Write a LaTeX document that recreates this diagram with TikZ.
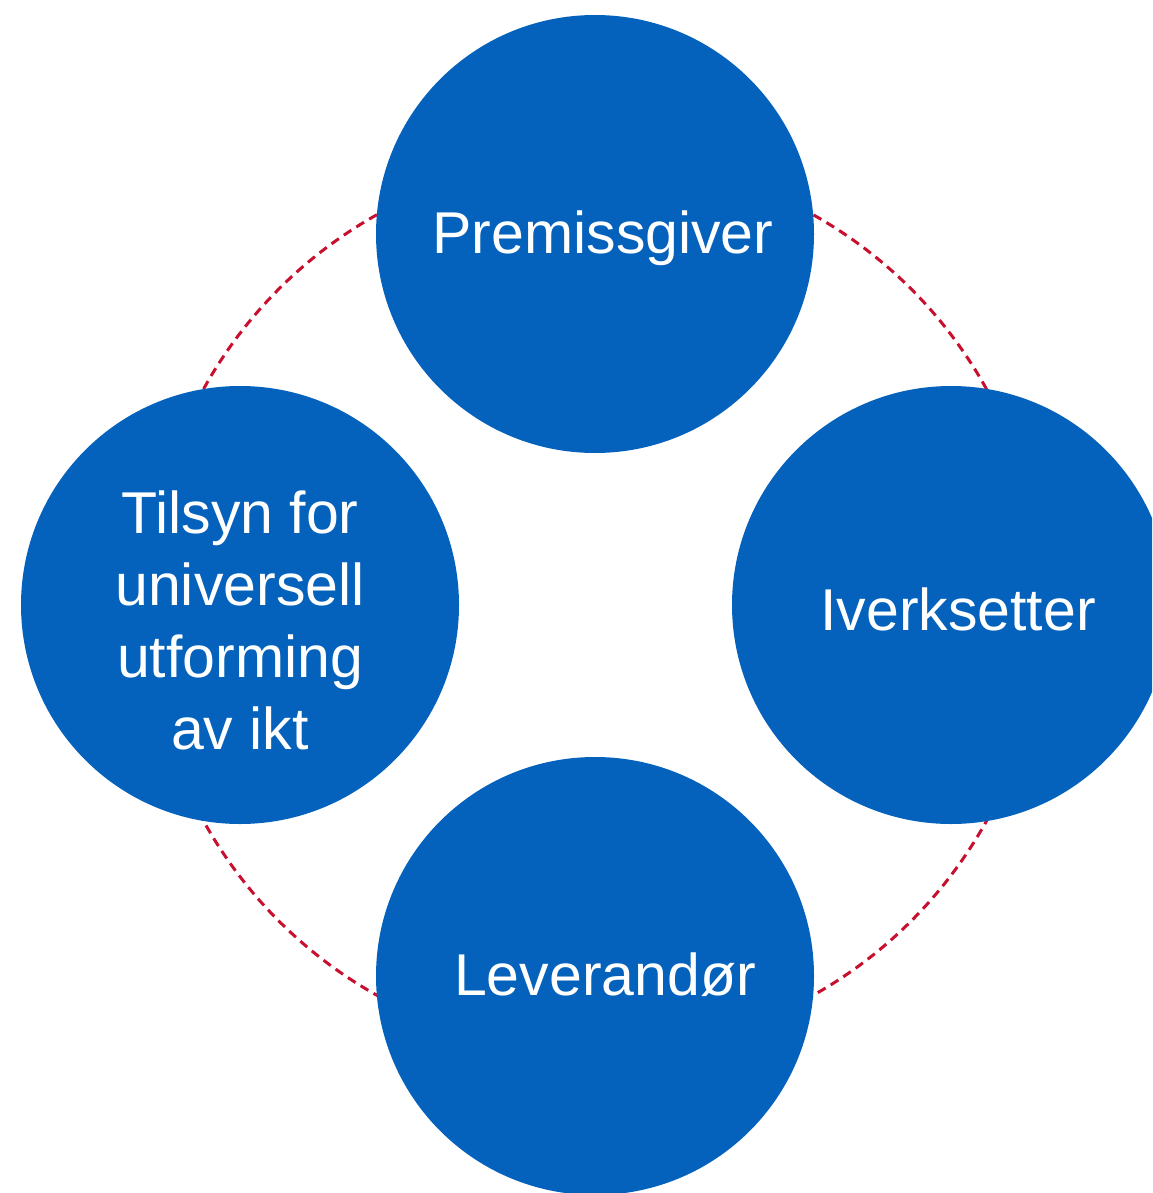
\documentclass[tikz,border=0pt]{standalone}
\usepackage{fontspec}
\setmainfont{Liberation Sans}
\definecolor{discblue}{RGB}{4,98,188}
\definecolor{ringred}{RGB}{200,16,46}
\begin{document}
\begin{tikzpicture}[x=1pt,y=-1pt,
  disc/.style={circle,fill=discblue,draw=none,minimum size=438pt,inner sep=0pt},
  lbl/.style={text=white,font=\fontsize{59}{72}\selectfont,inner sep=0pt,anchor=base,align=center},
  ring/.style={draw=ringred,line width=3pt,dash pattern=on 9pt off 6pt}]
\useasboundingbox (0,0) rectangle (1152,1193);
\begin{scope}
\clip (0,0) rectangle (1152,1193);
\coordinate (c) at (595,605);
\draw[ring] (c) circle[radius=447pt];
\node[disc] (top) at (595,234) {};
\node[disc] (left) at (240,605) {};
\node[disc] (right) at (951,605) {};
\node[disc] (bottom) at (595,976) {};
\node[lbl] (ttop) at (603,253) {Premissgiver};
\node[lbl] (tleft) at (240,749) {Tilsyn for\\universell\\utforming\\av ikt};
\node[lbl] (tright) at (958,630) {Iverksetter};
\node[lbl] (tbottom) at (605,995) {Leverandør};
\end{scope}
\end{tikzpicture}
\end{document}
